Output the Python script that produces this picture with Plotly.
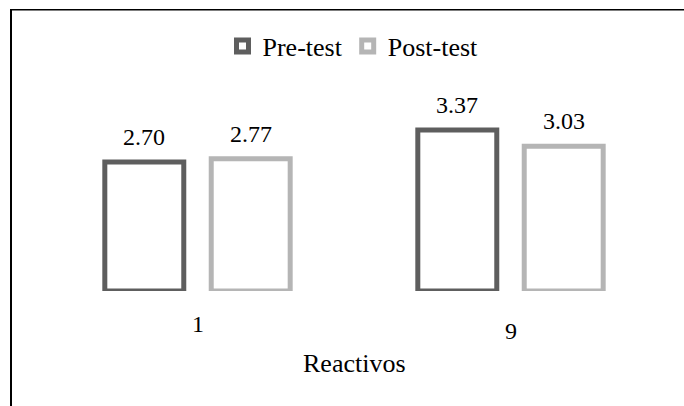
import plotly.graph_objects as go

# Item scores per test
categories = ["1", "9"]
series_names = ["Pre-test", "Post-test"]
pre_test = [2.70, 3.37]
post_test = [2.77, 3.03]
x_title = "Reactivos"

# Figure geometry (pixels)
WIDTH, HEIGHT = 684, 406
M_L, M_R, M_T, M_B = 41, 17, 100, 115
PLOT_W = WIDTH - M_L - M_R
PLOT_H = HEIGHT - M_T - M_B
BARGAP, GROUPGAP = 0.32, 0.258
LINE_W = 5
COLORS = ["#5e5e5e", "#b5b5b5"]
FONT = "Times New Roman"
TICK_DROP = [33, 40]      # vertical drop of each category label below the baseline
TITLE_DROP = 72


def px_x(px):
    return (px - M_L) / PLOT_W


def px_y(py):
    return (HEIGHT - M_B - py) / PLOT_H


fig = go.Figure()
for name, vals, col in zip(series_names, [pre_test, post_test], COLORS):
    fig.add_trace(go.Bar(
        x=categories, y=vals, name=name,
        marker=dict(color="white", line=dict(color=col, width=LINE_W)),
        hoverinfo="skip",
    ))

# value labels above each bar
sub_slot = PLOT_W / len(categories) * (1 - BARGAP) / len(series_names)
for i, vals in enumerate([pre_test, post_test]):
    shift = (i - (len(series_names) - 1) / 2) * sub_slot
    for k, v in enumerate(vals):
        fig.add_annotation(
            x=k, y=v, xref="x", yref="y", text=f"{v:.2f}", showarrow=False,
            xshift=shift, yshift=25, yanchor="middle",
            font=dict(family=FONT, size=24, color="black"),
        )

# category labels
for k, (c, drop) in enumerate(zip(categories, TICK_DROP)):
    fig.add_annotation(
        x=k, y=0, xref="x", yref="y", text=c, showarrow=False,
        yshift=-drop, yanchor="middle",
        font=dict(family=FONT, size=24, color="black"),
    )

# axis title
fig.add_annotation(
    x=0.5, y=0, xref="paper", yref="y", text=x_title, showarrow=False,
    yshift=-TITLE_DROP, yanchor="middle",
    font=dict(family=FONT, size=26, color="black"),
)

# frame lines along the top and left edges
fig.add_shape(type="line", xref="paper", yref="paper",
              x0=px_x(10), x1=px_x(WIDTH + 5), y0=px_y(9.8), y1=px_y(9.8),
              line=dict(color="black", width=1.6))
fig.add_shape(type="line", xref="paper", yref="paper",
              x0=px_x(11), x1=px_x(11), y0=px_y(9.2), y1=px_y(HEIGHT + 5),
              line=dict(color="black", width=2))

fig.update_layout(
    width=WIDTH, height=HEIGHT,
    margin=dict(l=M_L, r=M_R, t=M_T, b=M_B),
    paper_bgcolor="white", plot_bgcolor="white",
    barmode="group", bargap=BARGAP, bargroupgap=GROUPGAP,
    font=dict(family=FONT, size=24, color="black"),
    xaxis=dict(type="category", showticklabels=False, showgrid=False,
               zeroline=False, showline=False, ticks="", range=[-0.5, 1.5]),
    yaxis=dict(visible=False, range=[0, 4]),
    showlegend=True,
    legend=dict(orientation="h", x=px_x(353), y=px_y(46),
                xanchor="center", yanchor="middle", tracegroupgap=0,
                font=dict(family=FONT, size=26, color="black"),
                bgcolor="rgba(0,0,0,0)"),
)

fig.write_html("out.html")
